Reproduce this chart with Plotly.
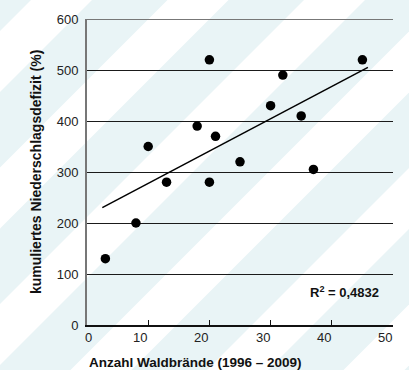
import plotly.graph_objects as go

# Forest fires vs. cumulative precipitation deficit
fires = [3, 8, 10, 13, 18, 20, 20, 21, 25, 30, 32, 35, 37, 45]
deficit = [130, 200, 350, 280, 390, 520, 280, 370, 320, 430, 490, 410, 305, 520]

# Linear trend line end points
trend_x = [2.5, 45.9]
trend_y = [230, 505]

x_ticks = [0, 10, 20, 30, 40, 50]
y_ticks = [0, 100, 200, 300, 400, 500, 600]
r2_label = "R<sup>2</sup> = 0,4832"

W, H = 409, 370
ML, MR, MT, MB = 87, 16, 19, 45
PW, PH = W - ML - MR, H - MT - MB

FONT = "Liberation Sans, Arial, Helvetica, sans-serif"
TXT = "#222222"
STRIPE = "#e9f4f6"


def px_to_paper(px, py):
    return (px - ML) / PW, (H - MB - py) / PH


fig = go.Figure()

fig.add_trace(go.Scatter(
    x=trend_x, y=trend_y, mode="lines",
    line=dict(color="#000000", width=1.5), hoverinfo="skip", showlegend=False,
))
fig.add_trace(go.Scatter(
    x=fires, y=deficit, mode="markers",
    marker=dict(color="#000000", size=9.5), showlegend=False,
))

# Diagonal background stripes (light blue bands between white ones)
shapes = []
period, white_w, offset = 136.5, 61, 31
for k in range(-2, 8):
    a = offset + white_w + k * period
    b = offset + (k + 1) * period
    pts = [(a, 0), (b, 0), (b - H, H), (a - H, H)]
    pp = [px_to_paper(x, y) for x, y in pts]
    path = "M " + " L ".join(f"{x:.4f},{y:.4f}" for x, y in pp) + " Z"
    shapes.append(dict(type="path", path=path, xref="paper", yref="paper",
                       fillcolor=STRIPE, line=dict(width=0), layer="below"))

# Grey top border line at the axis maximum
shapes.append(dict(type="line", xref="paper", x0=0, x1=1, yref="y",
                   y0=y_ticks[-1], y1=y_ticks[-1],
                   line=dict(color="#777777", width=2), layer="above"))

annotations = []
for v in x_ticks:
    annotations.append(dict(
        x=v, xref="x", y=0, yref="paper", text=str(v), showarrow=False,
        xanchor="center" if v == 0 else "right", xshift=1,
        yanchor="middle", yshift=-12,
        font=dict(family=FONT, size=13, color=TXT),
    ))

annotations.append(dict(
    x=0, xref="paper", y=0, yref="paper", xanchor="left", yanchor="middle",
    yshift=-37, text="<b>Anzahl Waldbrände (1996 – 2009)</b>", showarrow=False,
    font=dict(family=FONT, size=13.5, color="#111111"),
))
annotations.append(dict(
    x=0, xref="paper", y=0.5, yref="paper", xanchor="center", yanchor="middle",
    xshift=-51, textangle=-90, showarrow=False,
    text="<b>kumuliertes Niederschlagsdefizit (%)</b>",
    font=dict(family=FONT, size=14, color="#111111"),
))
rx, ry = px_to_paper(381, 292)
annotations.append(dict(
    x=rx, xref="paper", y=ry, yref="paper", xanchor="right", yanchor="middle",
    text=f"<b>{r2_label}</b>", showarrow=False,
    font=dict(family=FONT, size=13, color="#111111"),
))

fig.update_layout(
    width=W, height=H,
    margin=dict(l=ML, r=MR, t=MT, b=MB, pad=0),
    paper_bgcolor="#ffffff", plot_bgcolor="rgba(0,0,0,0)",
    shapes=shapes, annotations=annotations,
    xaxis=dict(
        range=[0, 50], tickvals=x_ticks[1:], showticklabels=False,
        ticks="inside", ticklen=5, tickwidth=1, tickcolor="#111111",
        showgrid=False, zeroline=False,
        showline=True, linecolor="#111111", linewidth=1.5,
    ),
    yaxis=dict(
        range=[0, 600], tickvals=y_ticks, ticks="", ticklabelstandoff=4,
        showgrid=True, gridcolor="#1a1a1a", gridwidth=1, zeroline=False,
        showline=True, linecolor="#777777", linewidth=2,
        tickfont=dict(family=FONT, size=13, color=TXT),
    ),
    showlegend=False,
)

fig.write_html("out.html")
